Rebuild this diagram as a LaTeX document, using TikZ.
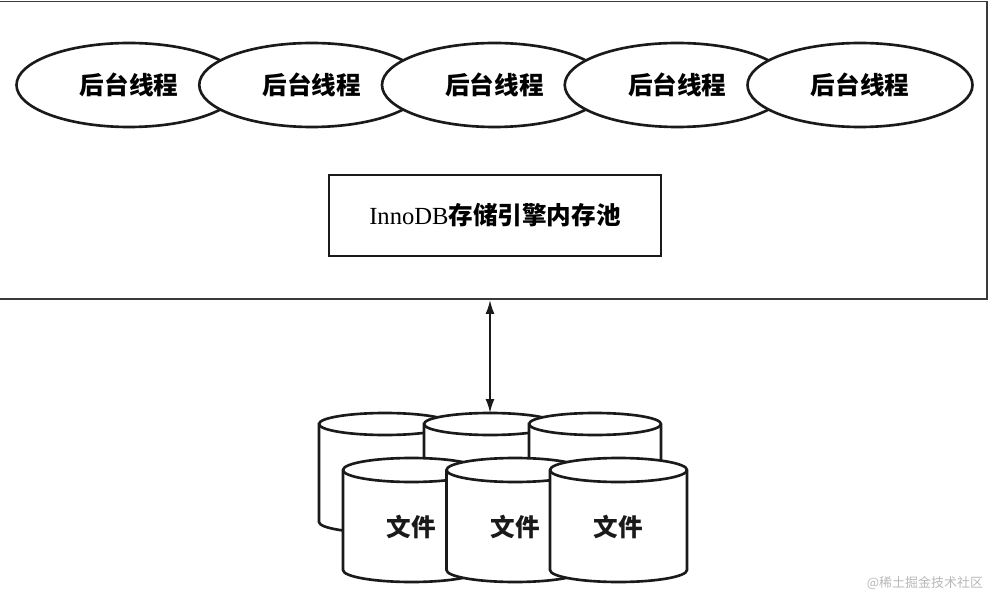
\documentclass[tikz,border=0pt]{standalone}
\usepackage{fontspec}
\setmainfont{Liberation Serif}
\newfontfamily\cjk{Noto Sans CJK SC}
\usepackage{tikz}
\usetikzlibrary{arrows.meta,shapes.geometric}
\definecolor{Ink}{HTML}{1A1A1A}
\definecolor{Frame}{HTML}{3A3A3A}
\definecolor{Mark}{HTML}{B8B8B8}
\tikzset{
  thread/.style={ellipse,draw=Ink,line width=1.5pt,fill=white,minimum width=4.5cm,minimum height=1.68cm,
    inner sep=0pt,font=\cjk\bfseries\fontsize{14}{17}\selectfont},
  poolbox/.style={rectangle,draw=Ink,line width=1.5pt,minimum width=6.64cm,minimum height=1.62cm,
    inner sep=0pt,font=\fontsize{14}{17}\selectfont},
  drumline/.style={draw=Ink,line width=1.5pt,fill=white},
  filelabel/.style={font=\cjk\bfseries\fontsize{14}{17}\selectfont,text=Ink},
  dualarrow/.style={{Latex[length=2.8mm,width=1.8mm]}-{Latex[length=2.8mm,width=1.8mm]},line width=1pt,draw=Ink},
}
% name, x, y of top, y of bottom, x radius, y radius
\newcommand{\filedrum}[6]{%
  \filldraw[drumline] (#2-#5,#3) -- (#2-#5,#4)
    arc[start angle=180,end angle=360,x radius=#5,y radius=#6] -- (#2+#5,#3)
    arc[start angle=0,end angle=180,x radius=#5,y radius=#6] -- cycle;
  \draw[drumline,fill=none] (#2-#5,#3) arc[start angle=180,end angle=360,x radius=#5,y radius=#6];
  \coordinate (#1) at (#2,#3+#6);
}

\begin{document}
\begin{tikzpicture}[x=1cm,y=1cm]
    \useasboundingbox (0,0) rectangle (20.04,12.12);

    \node[draw=Frame,line width=1.1pt,minimum width=19.94cm,minimum height=5.95cm,inner sep=0pt] (engine) at (9.77,9.115) {};

    \foreach \i in {1,...,5}
      \node[thread] (th\i) at ({2.58+3.655*(\i-1)},10.42) {后台线程};

    \node[poolbox] (pool) at (9.90,7.81) {InnoDB{\cjk\bfseries 存储引擎内存池}};

    % back row
    \filedrum{d1}{7.70}{3.64}{1.68}{1.32}{0.22}
    \filedrum{d2}{9.80}{3.64}{1.68}{1.32}{0.22}
    \filedrum{d3}{11.90}{3.64}{1.68}{1.32}{0.22}
    % front row
    \filedrum{d4}{8.23}{2.72}{0.72}{1.37}{0.24}
    \filedrum{d5}{10.30}{2.72}{0.72}{1.37}{0.24}
    \filedrum{d6}{12.37}{2.72}{0.72}{1.37}{0.24}

    \node[filelabel] (f1) at (8.23,1.58) {文件};
    \node[filelabel] (f2) at (10.30,1.58) {文件};
    \node[filelabel] (f3) at (12.37,1.58) {文件};

    \draw[dualarrow] (engine.south -| d2) -- (d2);

    \node[text=Mark,font=\cjk\fontsize{7.4}{9}\selectfont] (mark) at (18.50,0.46) {@稀土掘金技术社区};
  \end{tikzpicture}
\end{document}
